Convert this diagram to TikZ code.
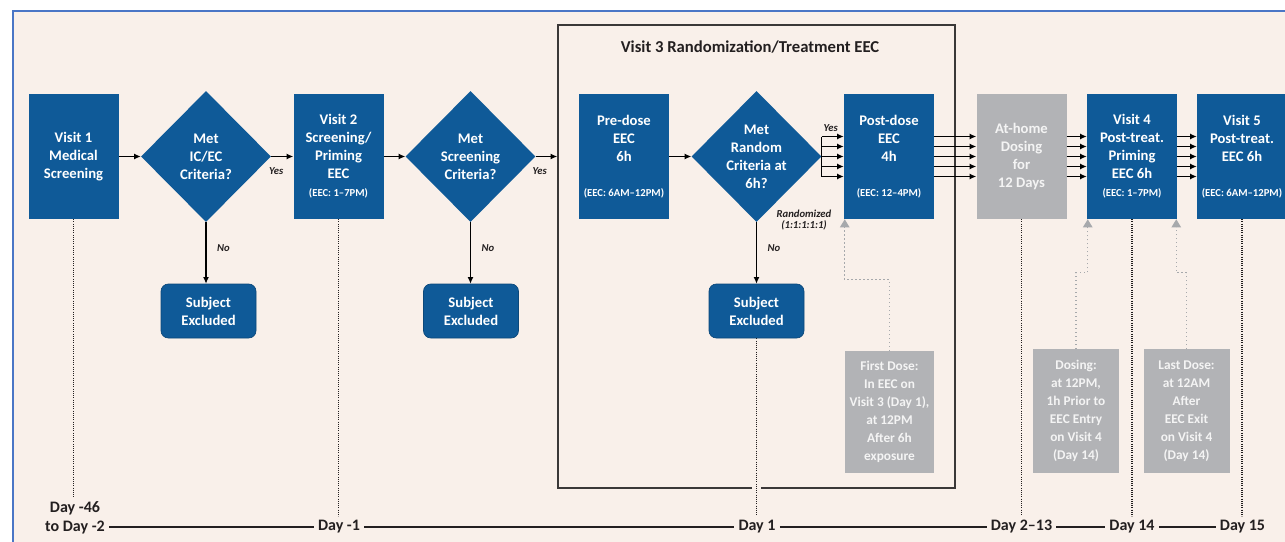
\documentclass[tikz,border=0pt]{standalone}
\usepackage{fontspec}
\setmainfont{Carlito}
\usetikzlibrary{shapes.geometric,arrows.meta,calc}
\definecolor{boxblue}{HTML}{0F5A98}
\definecolor{notegray}{HTML}{B2B3B6}
\definecolor{notetext}{HTML}{F4F4F4}
\definecolor{linkgray}{HTML}{A7A9AC}
\definecolor{bgbeige}{HTML}{F9F0EA}
\definecolor{edgeblue}{HTML}{4A76C6}
\definecolor{inkdark}{HTML}{231F20}
\definecolor{framegray}{HTML}{3B3838}

\begin{document}
\begin{tikzpicture}[x=0.75pt,y=-0.75pt,every node/.style={font=\bfseries},
  visitbox/.style={fill=boxblue,text=white,minimum width=67.5pt,minimum height=93.75pt,inner sep=0pt,align=center,font=\bfseries\fontsize{11}{13.5}\selectfont},
  homebox/.style={visitbox,fill=notegray,text=notetext},
  decide/.style={diamond,fill=boxblue,text=white,minimum width=97.5pt,minimum height=98.25pt,inner sep=0pt,align=center,font=\bfseries\fontsize{11}{13.5}\selectfont},
  excluded/.style={rounded corners=5.5pt,fill=boxblue,draw=boxblue!80!black,line width=0.5pt,text=white,minimum width=71.25pt,minimum height=40.5pt,inner sep=0pt,align=center,font=\bfseries\fontsize{11}{13.5}\selectfont},
  notebox/.style={fill=notegray,text=notetext,minimum width=66.75pt,minimum height=91.5pt,inner sep=0pt,align=center,font=\bfseries\fontsize{10}{13.5}\selectfont},
  flow/.style={-{Latex[length=5pt,width=4.5pt]},line width=0.8pt},
  notelink/.style={draw=linkgray,line width=0.9pt,dash pattern=on 0.9pt off 2.1pt,-{Triangle[length=6pt,width=7pt,fill=linkgray]}},
  dayline/.style={draw=inkdark,line width=0.9pt,dash pattern=on 0.75pt off 0.9pt},
  timeline/.style={draw=inkdark,line width=0.9pt},
  daylab/.style={text=inkdark,inner sep=3pt,align=center,font=\bfseries\fontsize{12}{14.25}\selectfont},
  lab/.style={text=inkdark,inner sep=1pt,align=center,font=\bfseries\itshape\fontsize{8}{8.5}\selectfont}]
\useasboundingbox (0,0) rectangle (1285,542);
\fill[bgbeige] (12,11) rectangle (1285,542);
\draw[edgeblue,line width=1.5pt] (12.5,542) -- (12.5,11) -- (1285,11);

\node[draw=framegray,line width=1.2pt,minimum width=297.75pt,minimum height=347.25pt,inner sep=0pt] (v3) at (756.5,256.5) {};
\node[text=inkdark,font=\bfseries\fontsize{12.5}{15}\selectfont] (v3title) at (750,47) {Visit 3 Randomization/Treatment EEC};

\node[visitbox] (v1) at (73.5,156.5) {Visit 1\\Medical\\Screening};
\node[decide] (d1) at (206,156.5) {Met\\IC/EC\\Criteria?};
\node[visitbox] (v2) at (338.5,156.5) {Visit 2\\Screening/\\Priming\\EEC\\{\fontsize{8}{13.5}\selectfont (EEC: 1--7PM)}};
\node[decide] (d2) at (470.5,156.5) {Met\\Screening\\Criteria?};
\node[visitbox] (pre) at (624,156.5) {Pre-dose\\EEC\\6h\\[13pt]{\fontsize{8}{13.5}\selectfont (EEC: 6AM--12PM)}};
\node[decide] (d3) at (756.5,156.5) {Met\\Random\\Criteria at\\6h?};
\node[visitbox] (post) at (889,156.5) {Post-dose\\EEC\\4h\\[13pt]{\fontsize{8}{13.5}\selectfont (EEC: 12--4PM)}};
\node[homebox] (home) at (1021.5,156.5) {At-home\\Dosing\\for\\12 Days};
\node[visitbox] (v4) at (1132,156.5) {Visit 4\\Post-treat.\\Priming\\EEC 6h\\{\fontsize{8}{13.5}\selectfont (EEC: 1--7PM)}};
\node[visitbox] (v5) at (1242,156.5) {Visit 5\\Post-treat.\\EEC 6h\\[13pt]{\fontsize{8}{13.5}\selectfont (EEC: 6AM--12PM)}};

\node[excluded] (ex1) at (208.5,311) {Subject\\Excluded};
\node[excluded] (ex2) at (471,311) {Subject\\Excluded};
\node[excluded] (ex3) at (756.5,311) {Subject\\Excluded};

\node[notebox] (n1) at (889.5,412) {First Dose:\\In EEC on\\Visit 3 (Day 1),\\at 12PM\\After 6h\\exposure};
\node[notebox,minimum width=64.5pt,minimum height=93pt] (n2) at (1076,411) {Dosing:\\at 12PM,\\1h Prior to\\EEC Entry\\on Visit 4\\(Day 14)};
\node[notebox,minimum width=64.5pt,minimum height=93pt] (n3) at (1186.5,411) {Last Dose:\\at 12AM\\After\\EEC Exit\\on Visit 4\\(Day 14)};

\node[lab] (rnd) at (804,220) {Randomized\\(1:1:1:1:1)};

\node[daylab] (t0) at (75,517.5) {Day -46\\to Day -2};
\node[daylab] (t1) at (339,527) {Day -1};
\node[daylab] (t2) at (757,527) {Day 1};
\node[daylab] (t3) at (1021.5,527) {Day 2--13};
\node[daylab] (t4) at (1132,527) {Day 14};
\node[daylab] (t5) at (1242.5,527) {Day 15};

\draw[flow] (v1) -- (d1);
\draw[flow] (d1) -- (v2) node[lab,pos=0.23,below=7pt] {Yes};
\draw[flow] (v2) -- (d2);
\draw[flow] (d2.east) -- (d2.east -| v3.west) node[lab,pos=0.18,below=7pt] {Yes};
\draw[flow] (pre) -- (d3);
\draw[line width=0.8pt] ($(d3.east)+(0,-20)$) -- ($(d3.east)+(0,20)$) node[lab,pos=0,anchor=south west,yshift=2pt] {Yes};
\foreach \dy in {-20,-10,0,10,20} {
  \draw[flow] ($(d3.east)+(0,\dy)$) -- ($(post.west)+(0,\dy)$);
  \draw[flow] ($(post.east)+(0,\dy)$) -- ($(home.west)+(0,\dy)$);
  \draw[flow] ($(home.east)+(0,\dy)$) -- ($(v4.west)+(0,\dy)$);
  \draw[flow] ($(v4.east)+(0,\dy)$) -- ($(v5.west)+(0,\dy)$);
}
\draw[flow] (d1.south) -- (d1.south |- ex1.north) node[lab,pos=0.42,right=7pt] {No};
\draw[flow] (d2.south) -- (d2.south |- ex2.north) node[lab,pos=0.42,right=7pt] {No};
\draw[flow] (d3.south) -- (d3.south |- ex3.north) node[lab,pos=0.42,right=7pt] {No};

\draw[notelink] (n1.north) -- ++(0,-71) -| ([xshift=0.75pt]post.south west);
\draw[notelink] (n2.north) -- ++(0,-76) -| ([xshift=0.75pt]v4.south west);
\draw[notelink] (n3.north) -- ++(0,-76) -| ([xshift=-0.75pt]v4.south east);

\fill[bgbeige] (752,485) rectangle (761,491);
\draw[dayline] (v1.south) -- (v1.south |- t0.north);
\draw[dayline] (v2.south) -- (v2.south |- t1.north);
\draw[dayline] (ex3.south) -- (ex3.south |- t2.north);
\draw[dayline] (home.south) -- (home.south |- t3.north);
\draw[dayline] (v4.south) -- (v4.south |- t4.north);
\draw[dayline] (v5.south) -- (v5.south |- t5.north);

\draw[timeline] (t0.east |- t1.west) -- (t1.west);
\draw[timeline] (t1.east) -- (t2.west);
\draw[timeline] (t2.east) -- (t3.west);
\draw[timeline] (t3.east) -- (t4.west);
\draw[timeline] (t4.east) -- (t5.west);
\end{tikzpicture}
\end{document}
